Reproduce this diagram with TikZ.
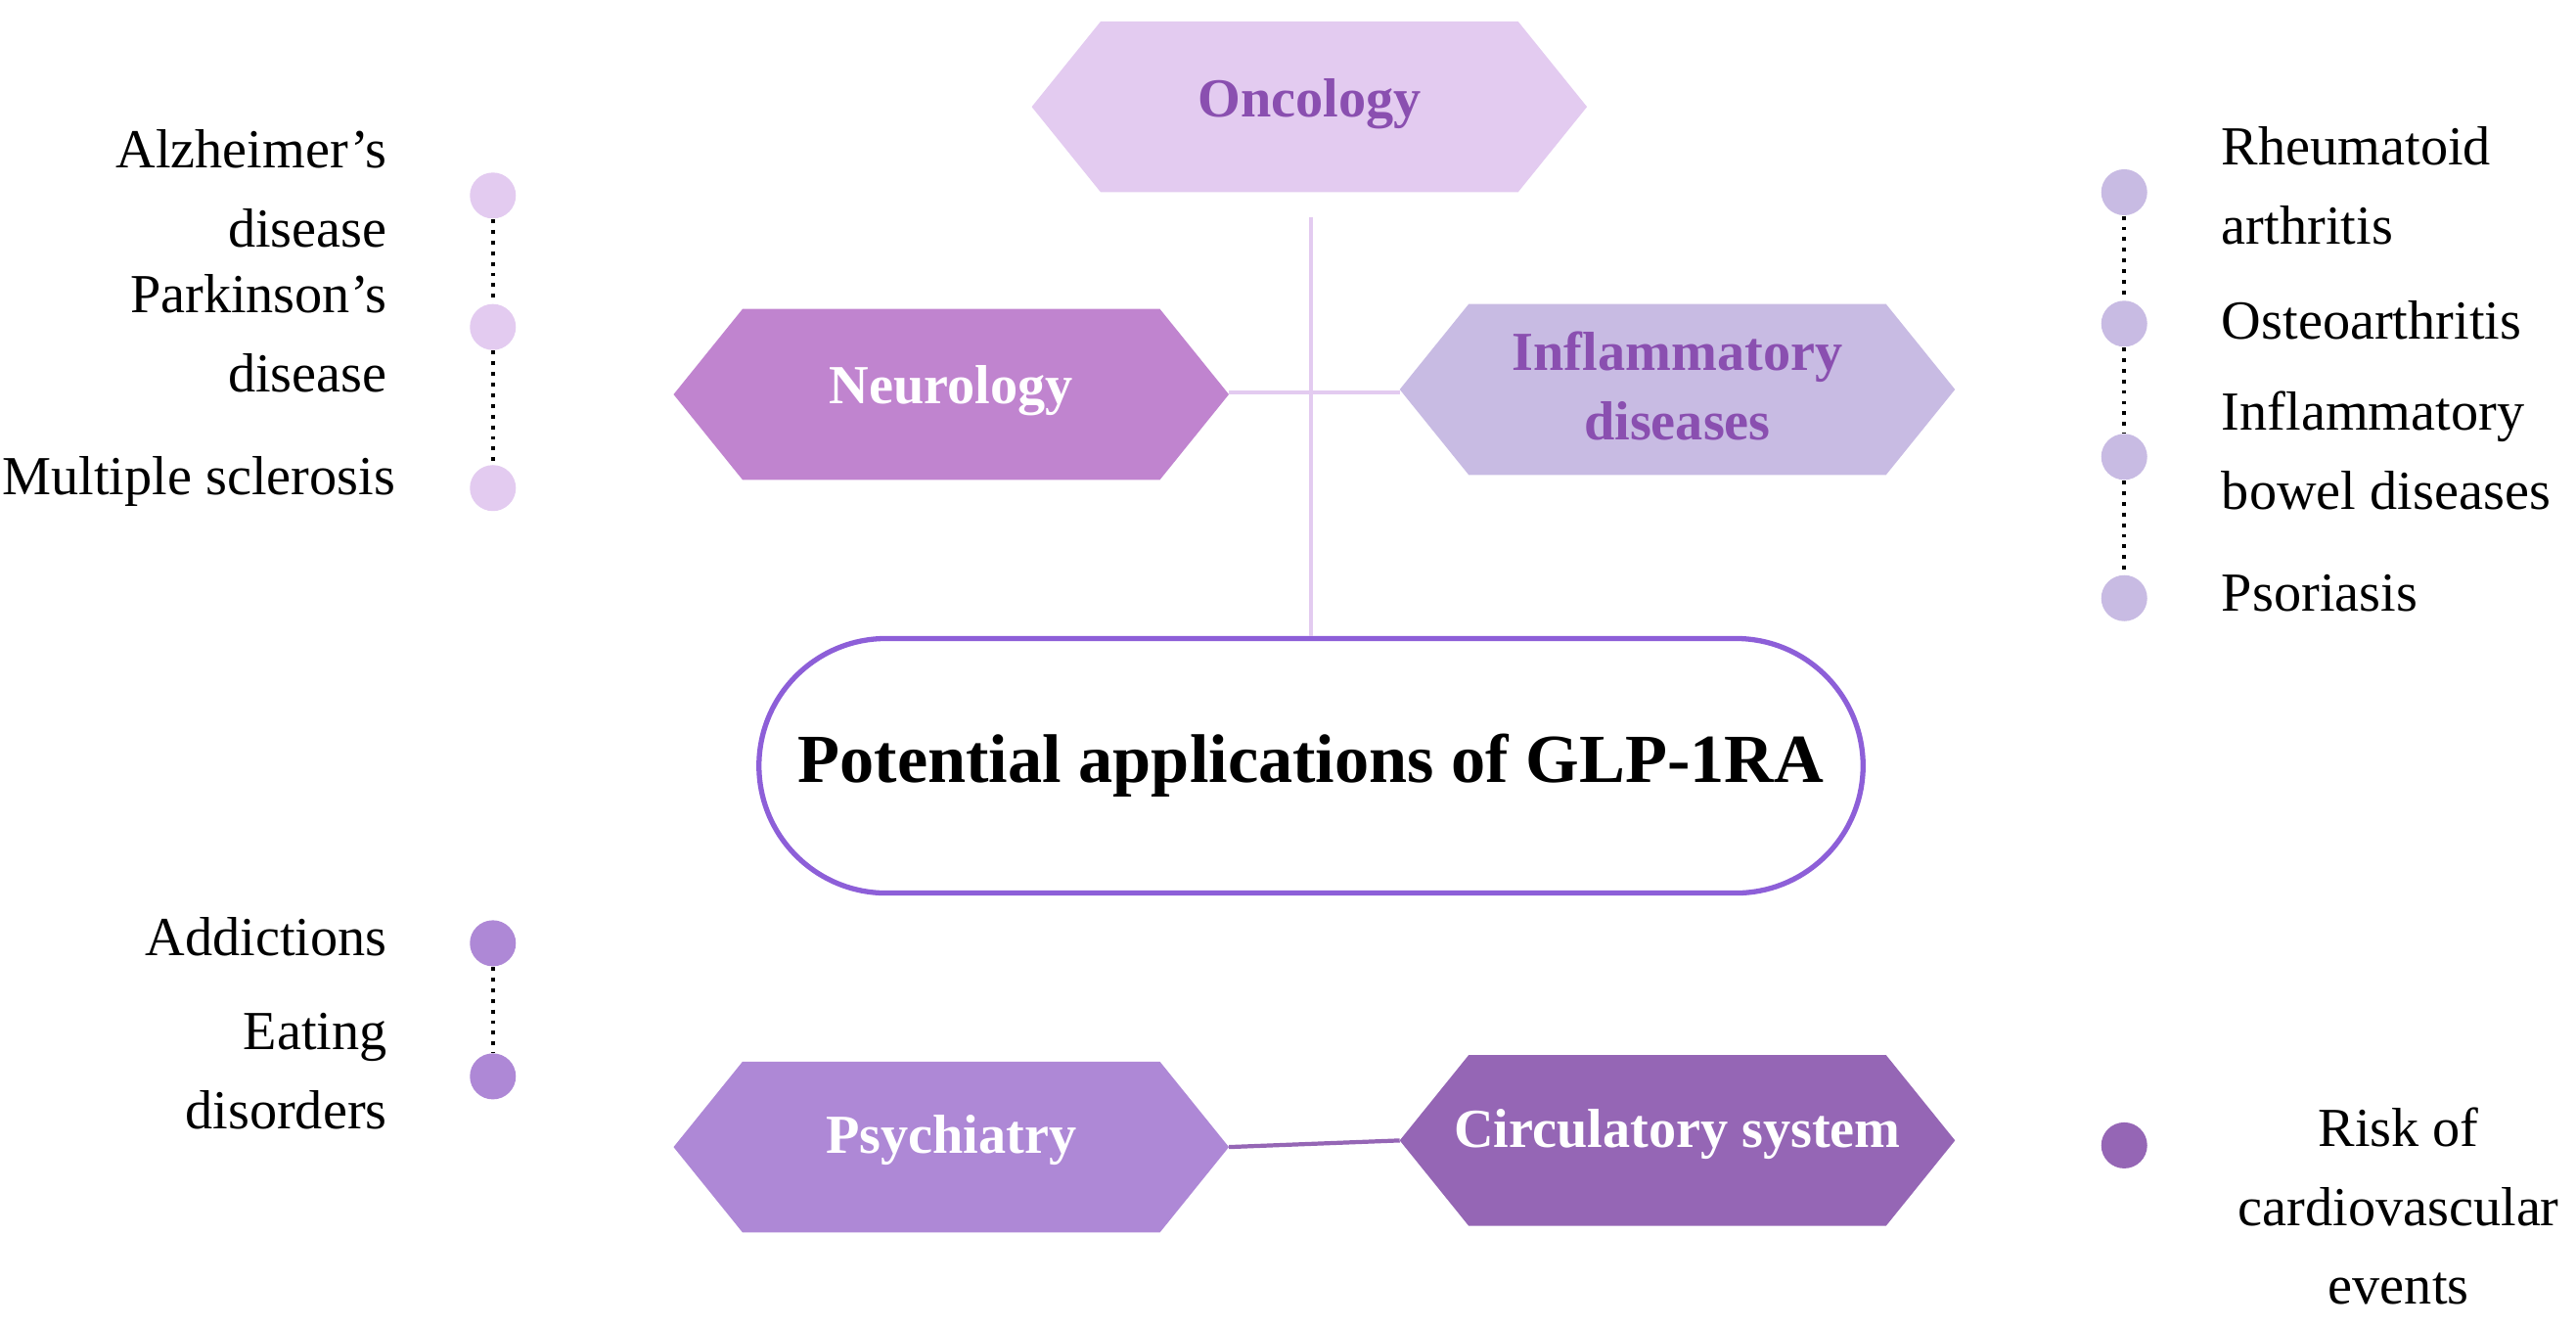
\documentclass[tikz,border=0pt]{standalone}
\usepackage{fontspec}
\setmainfont{Liberation Serif}
\begin{document}
\begin{tikzpicture}[x=0.016792cm,y=-0.016792cm,
  lbl/.style={font=\fontsize{16}{23}\selectfont,align=right,anchor=east},
  rlbl/.style={font=\fontsize{16}{23}\selectfont,align=left,anchor=west},
  hlbl/.style={font=\fontsize{16}{20}\selectfont\bfseries,align=center},
  dot/.style={circle,minimum size=0.47cm,inner sep=0pt},
  conn/.style={draw=#1,line width=1.2pt},
  dots/.style={dotted,line width=1.1pt,black}]
\definecolor{onc}{HTML}{E3CBF0}
\definecolor{neu}{HTML}{C084CF}
\definecolor{inf}{HTML}{C8BBE3}
\definecolor{psy}{HTML}{AE88D6}
\definecolor{cir}{HTML}{9566B5}
\definecolor{ptxt}{HTML}{8A4FB0}
\definecolor{bord}{HTML}{8D5FD8}
\useasboundingbox (0,0) rectangle (1568,807);
\newcommand\hexshape[3]{\fill[#3] (#1-169,#2) -- (#1-127,#2-52) -- (#1+127,#2-52) -- (#1+169,#2) -- (#1+127,#2+52) -- (#1-127,#2+52) -- cycle;}
% hexagon shapes
\hexshape{797}{65}{onc}
\hexshape{579}{240}{neu}
\hexshape{1021}{237}{inf}
\hexshape{579}{698}{psy}
\hexshape{1021}{694}{cir}
% nodes
\node[hlbl,text=ptxt] (onc) at (797,63) {Oncology};
\node[hlbl,text=white] (neu) at (579,238) {Neurology};
\node[hlbl,text=ptxt] (inf) at (1021,235) {Inflammatory\\diseases};
\node[hlbl,text=white] (psy) at (579,694) {Psychiatry};
\node[hlbl,text=white] (cir) at (1021,690) {Circulatory system};
\coordinate (ontop) at (798,132);
\coordinate (nr) at (748,239);
\coordinate (il) at (852,239);
\coordinate (pr) at (748,698);
\coordinate (cl) at (852,694);
\node[draw=bord,line width=1.5pt,fill=white,rounded corners=1.3cm,minimum width=11.28cm,minimum height=2.6cm,
  font=\fontsize{20}{24}\selectfont\bfseries] (main) at (798,466) {Potential applications of GLP-1RA};
\draw[conn=onc] (ontop) -- (main.north);
\draw[conn=onc] (nr) -- (il);
\draw[conn=cir] (pr) -- (cl);
% left top list
\node[dot,fill=onc] (a1) at (300,119) {};
\node[dot,fill=onc] (a2) at (300,199) {};
\node[dot,fill=onc] (a3) at (300,297) {};
\draw[dots] (a1) -- (a2); \draw[dots] (a2) -- (a3);
\node[lbl] (t1) at (243,115) {Alzheimer's\\disease};
\node[lbl] (t2) at (243,203) {Parkinson's\\disease};
\node[lbl] (t3) at (248,293) {Multiple sclerosis};
% right top list
\node[dot,fill=inf] (b1) at (1293,117) {};
\node[dot,fill=inf] (b2) at (1293,197) {};
\node[dot,fill=inf] (b3) at (1293,278) {};
\node[dot,fill=inf] (b4) at (1293,364) {};
\draw[dots] (b1) -- (b2); \draw[dots] (b2) -- (b3); \draw[dots] (b3) -- (b4);
\node[rlbl] (u1) at (1345,113) {Rheumatoid\\arthritis};
\node[rlbl] (u2) at (1345,195) {Osteoarthritis};
\node[rlbl] (u3) at (1345,274) {Inflammatory\\bowel diseases};
\node[rlbl] (u4) at (1345,361) {Psoriasis};
% left bottom
\node[dot,fill=psy] (c1) at (300,574) {};
\node[dot,fill=psy] (c2) at (300,655) {};
\draw[dots] (c1) -- (c2);
\node[lbl] (v1) at (243,570) {Addictions};
\node[lbl] (v2) at (243,652) {Eating\\disorders};
% right bottom
\node[dot,fill=cir] (d1) at (1293,697) {};
\node[font=\fontsize{16}{23}\selectfont,align=center] (w1) at (1460,734) {Risk of\\cardiovascular\\events};
\end{tikzpicture}
\end{document}
